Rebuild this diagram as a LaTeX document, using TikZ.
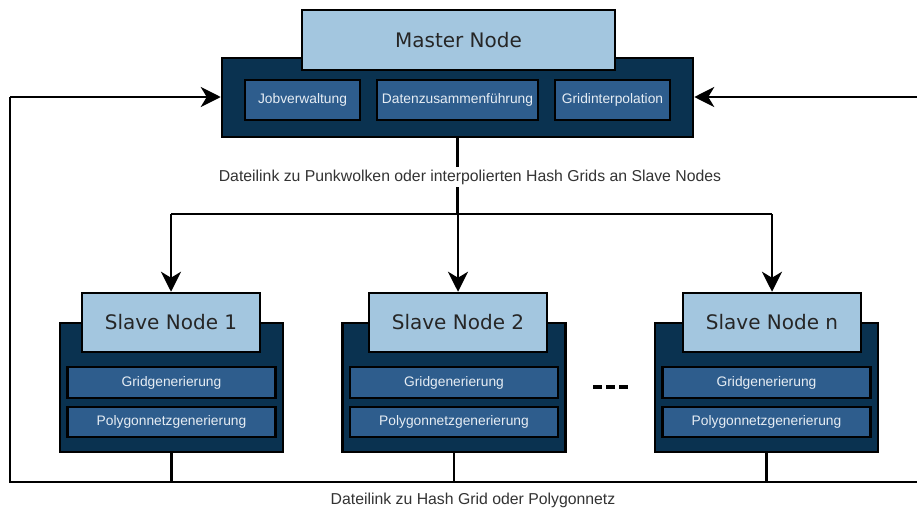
\documentclass[tikz,border=0pt]{standalone}
\usepackage{fontspec}
\setmainfont{Liberation Sans}
\newfontfamily\titlefont{DejaVu Sans}
\usetikzlibrary{arrows.meta}
\definecolor{titleblue}{HTML}{A3C6DF}
\definecolor{navy}{HTML}{0A3250}
\definecolor{innerblue}{HTML}{2E5D8D}
\definecolor{titletext}{HTML}{262626}
\definecolor{innertext}{HTML}{E6EDF4}
\tikzset{
  outerbox/.style={draw=black, fill=navy, line width=2.5pt, inner sep=0pt, minimum width=223pt, minimum height=129pt},
  titlebox/.style={draw=black, fill=titleblue, line width=2.5pt, inner sep=0pt, minimum width=178pt, minimum height=59pt,
    text=titletext, font=\titlefont\fontsize{20}{24}\selectfont},
  innerbox/.style={draw=black, fill=innerblue, line width=2.5pt, inner sep=0pt, minimum width=208pt, minimum height=31pt,
    text=innertext, font=\fontsize{13.8}{16}\selectfont},
  conn/.style={draw=black, line width=2.5pt},
  arr/.style={conn, -{Stealth[length=20pt,width=20pt,inset=6pt]}},
  lbl/.style={fill=white, inner sep=3pt, text=black!80, font=\fontsize{15.8}{18}\selectfont}
}
\begin{document}
\begin{tikzpicture}[x=1pt,y=-1pt]
\useasboundingbox (0,0) rectangle (917,514);
% master
\node[outerbox, minimum width=471pt, minimum height=79pt] (mo) at (457.5,97.5) {};
\node[titlebox, minimum width=313pt, minimum height=60pt] (mt) at (458.5,40) {Master Node};
\node[innerbox, minimum width=115pt, minimum height=40pt] (job) at (302.5,100) {Jobverwaltung};
\node[innerbox, minimum width=161pt, minimum height=40pt] (dat) at (457.5,100) {Datenzusammenführung};
\node[innerbox, minimum width=115pt, minimum height=40pt] (gri) at (612.5,100) {Gridinterpolation};
% slaves
\foreach \n/\cx/\tx/\lab in {s1/171.5/171/Slave Node 1, s2/454/458/Slave Node 2, sn/766.5/772/Slave Node n}{
  \node[outerbox] (\n o) at (\cx,387.5) {};
  \node[titlebox] (\n t) at (\tx,322.5) {\lab};
  \node[innerbox] (\n g) at (\cx,382.5) {Gridgenerierung};
  \node[innerbox, minimum height=30pt] (\n p) at (\cx,422) {Polygonnetzgenerierung};
}
% dots
\draw[line width=3.5pt, dash pattern=on 9pt off 4pt] (593,387) -- (628,387);
% coordinates
\coordinate (hl) at (458,214);
\coordinate (lt) at (10,97);
\coordinate (lb) at (10,482);
\coordinate (rt) at (917,97);
\coordinate (rb) at (917,482);
% master to slaves
\draw[conn] (mo.south) -- (mo.south |- hl);
\draw[conn] (s1t.north |- hl) -- (snt.north |- hl);
\draw[arr] (s1t.north |- hl) -- (s1t.north);
\draw[arr] (s2t.north |- hl) -- (s2t.north);
\draw[arr] (snt.north |- hl) -- (snt.north);
\node[lbl] (toplbl) at (470,177) {Dateilink zu Punkwolken oder interpolierten Hash Grids an Slave Nodes};
% return lines
\draw[conn] (s1o.south) -- (s1o.south |- lb);
\draw[conn] (s2o.south) -- (s2o.south |- lb);
\draw[conn] (sno.south) -- (sno.south |- lb);
\draw[conn] (rb) -- (lb) -- (lt);
\draw[arr] (lt) -- (mo.west |- lt);
\draw[arr] (rt) -- (mo.east |- rt);
\node[lbl] (botlbl) at (473,500) {Dateilink zu Hash Grid oder Polygonnetz};
\end{tikzpicture}
\end{document}
